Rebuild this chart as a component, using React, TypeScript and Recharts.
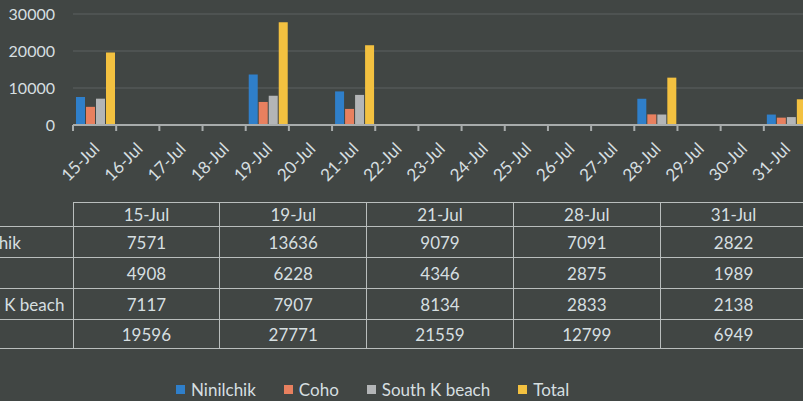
import { Bar, BarChart, CartesianGrid, Legend, XAxis, YAxis } from "recharts";

const dates = [
  "15-Jul", "16-Jul", "17-Jul", "18-Jul", "19-Jul", "20-Jul", "21-Jul", "22-Jul", "23-Jul",
  "24-Jul", "25-Jul", "26-Jul", "27-Jul", "28-Jul", "29-Jul", "30-Jul", "31-Jul",
];
const ninilchik = [7571, null, null, null, 13636, null, 9079, null, null, null, null, null, null, 7091, null, null, 2822];
const coho = [4908, null, null, null, 6228, null, 4346, null, null, null, null, null, null, 2875, null, null, 1989];
const southK = [7117, null, null, null, 7907, null, 8134, null, null, null, null, null, null, 2833, null, null, 2138];
const total = [19596, null, null, null, 27771, null, 21559, null, null, null, null, null, null, 12799, null, null, 6949];
const yTicks = [0, 10000, 20000, 30000];

const series = [
  { key: "ninilchik", name: "Ninilchik", values: ninilchik, color: "#2f7fca" },
  { key: "coho", name: "Coho", values: coho, color: "#e8805f" },
  { key: "southK", name: "South K beach", values: southK, color: "#b3b5b7" },
  { key: "total", name: "Total", values: total, color: "#f3c140" },
];

const rows = dates.map((d, i) => {
  const r: Record<string, any> = { date: d };
  series.forEach((s) => (r[s.key] = s.values[i]));
  return r;
});
const tableDates = dates.filter((_, i) => total[i] != null);

const FONT = "Lato, 'Open Sans', sans-serif";
const TXT = "#d6dfe0";
const LINE = "#b9bebd";
const CHART_W = 807;
const AXIS_W = 73;
const BAND = (CHART_W - AXIS_W) / dates.length;
const HEAD_W = 117;

function DateTick(props: any) {
  const { x, y, payload } = props;
  const bx = x - BAND / 2;
  return (
    <g>
      <line x1={bx} y1={y - 8} x2={bx} y2={y - 2} stroke="#a8acac" strokeWidth={2} />
      <text
        transform={`translate(${x + 6},${y + 17}) rotate(-45)`}
        textAnchor="end"
        fill={TXT}
        fontSize={17}
        fontFamily={FONT}
      >
        {payload.value}
      </text>
    </g>
  );
}

function LegendBox() {
  return (
    <div style={{ display: "flex", alignItems: "center", fontFamily: FONT, fontSize: 17, color: TXT }}>
      {series.map((s) => (
        <span key={s.key} style={{ display: "flex", alignItems: "center", marginRight: 28 }}>
          <span style={{ width: 9, height: 9, background: s.color, marginRight: 6, display: "inline-block" }} />
          {s.name}
        </span>
      ))}
    </div>
  );
}

const cell = (extra: any = {}) => ({
  border: `1px solid ${LINE}`,
  padding: 0,
  textAlign: "center" as const,
  ...extra,
});

export default function App() {
  return (
    <div
      style={{
        position: "absolute",
        left: 0,
        top: 0,
        width: 803,
        height: 401,
        overflow: "hidden",
        background: "#414644",
      }}
    >
      <BarChart
        width={CHART_W}
        height={401}
        data={rows}
        margin={{ top: 14, right: 0, left: 0, bottom: 0 }}
        barCategoryGap="7%"
        barGap={1}
      >
        <CartesianGrid vertical={false} stroke="#5c6160" />
        <YAxis
          width={AXIS_W}
          domain={[0, 30000]}
          ticks={yTicks}
          axisLine={false}
          tickLine={false}
          tickSize={0}
          tickMargin={18}
          tick={{ fill: TXT, fontSize: 16, fontFamily: FONT }}
        />
        <XAxis
          dataKey="date"
          height={276}
          interval={0}
          axisLine={{ stroke: "#a8acac", strokeWidth: 2 }}
          tickLine={false}
          tickSize={6}
          tickMargin={2}
          tick={<DateTick />}
        />
        {series.map((s) => (
          <Bar key={s.key} dataKey={s.key} name={s.name} fill={s.color} isAnimationActive={false} />
        ))}
        <Legend
          layout="horizontal"
          verticalAlign="middle"
          align="center"
          content={<LegendBox />}
          wrapperStyle={{ top: 379, left: 176, width: "auto", height: 20 }}
        />
      </BarChart>
      <table
        style={{
          position: "absolute",
          left: AXIS_W - HEAD_W,
          top: 202,
          width: HEAD_W + CHART_W - AXIS_W,
          borderCollapse: "collapse",
          tableLayout: "fixed",
          fontFamily: FONT,
          fontSize: 17,
          color: TXT,
        }}
      >
        <colgroup>
          <col style={{ width: HEAD_W }} />
          {tableDates.map((d) => (
            <col key={d} style={{ width: (CHART_W - AXIS_W) / tableDates.length }} />
          ))}
        </colgroup>
        <tbody>
          <tr style={{ height: 24 }}>
            <td style={{ padding: 0, borderRight: `1px solid ${LINE}` }} />
            {tableDates.map((d) => (
              <td key={d} style={cell()}>{d}</td>
            ))}
          </tr>
          {series.map((s, ri) => (
            <tr key={s.key} style={{ height: ri === 3 ? 29 : 31 }}>
              <td style={cell({ textAlign: "left", borderLeft: "none", whiteSpace: "nowrap" })}>{s.name}</td>
              {tableDates.map((d) => (
                <td key={d} style={cell()}>{s.values[dates.indexOf(d)]}</td>
              ))}
            </tr>
          ))}
        </tbody>
      </table>
    </div>
  );
}
